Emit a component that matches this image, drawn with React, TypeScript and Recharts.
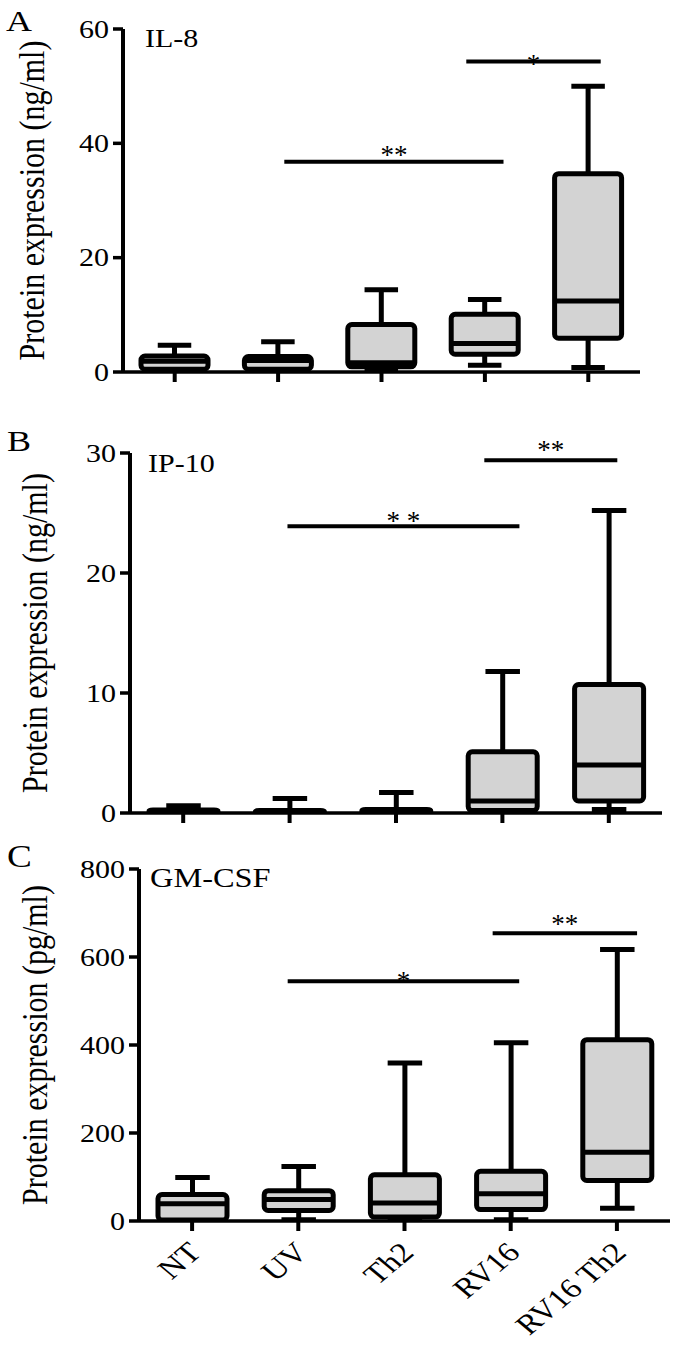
import { ComposedChart, Bar, XAxis, YAxis, ReferenceLine, ReferenceDot } from 'recharts';

const groups = ['NT', 'UV', 'Th2', 'RV16', 'RV16 Th2'];

// IL-8 (ng/ml): whisker low, Q1, median, Q3, whisker high
const il8Min = [0.2, 0.2, 0.3, 1.2, 0.8];
const il8Q1 = [0.5, 0.5, 0.9, 3.1, 5.9];
const il8Med = [1.9, 2.0, 1.6, 5.0, 12.4];
const il8Q3 = [2.8, 2.7, 8.3, 10.1, 34.7];
const il8Max = [4.7, 5.3, 14.4, 12.7, 50];

// IP-10 (ng/ml)
const ip10Min = [0, 0, 0, 0.05, 0.3];
const ip10Q1 = [0.05, 0.02, 0.03, 0.2, 1.0];
const ip10Med = [0.15, 0.1, 0.15, 1.0, 4.0];
const ip10Q3 = [0.25, 0.2, 0.3, 5.1, 10.7];
const ip10Max = [0.6, 1.2, 1.7, 11.8, 25.2];

// GM-CSF (pg/ml)
const gmMin = [0, 3, 2, 3, 29];
const gmQ1 = [2, 24, 9, 26, 92];
const gmMed = [39, 49, 41, 62, 156];
const gmQ3 = [60, 69, 105, 113, 412];
const gmMax = [99, 124, 359, 405, 617];

// significance bars: span in group-index units, height in axis units
const sigA = [
  { from: 1.06, to: 3.18, y: 36.8, label: '**' },
  { from: 2.82, to: 4.12, y: 54.3, label: '*' },
];
const sigB = [
  { from: 0.98, to: 3.16, y: 23.9, label: '* *' },
  { from: 2.83, to: 4.08, y: 29.4, label: '**' },
];
const sigC = [
  { from: 0.9, to: 3.08, y: 545, label: '*' },
  { from: 2.83, to: 4.19, y: 654, label: '**' },
];
// label baseline offsets (px) below each bar
const sigDyA = [2, 11];
const sigDyB = [4, -1];
const sigDyC = [9, 0];

const ticksA = [0, 20, 40, 60];
const ticksB = [0, 10, 20, 30];
const ticksC = [0, 200, 400, 600, 800];
const groupTicks = [0, 1, 2, 3, 4];

const FONT = '"Liberation Serif", "Times New Roman", serif';
const SX = 1.2;

type Row = { idx: number; name: string; min: number; q1: number; med: number; q3: number; max: number };

const rows = (mn: number[], a: number[], m: number[], b: number[], mx: number[]): Row[] =>
  groups.map((name, i) => ({ idx: i, name, min: mn[i], q1: a[i], med: m[i], q3: b[i], max: mx[i] }));

const dataA = rows(il8Min, il8Q1, il8Med, il8Q3, il8Max);
const dataB = rows(ip10Min, ip10Q1, ip10Med, ip10Q3, ip10Max);
const dataC = rows(gmMin, gmQ1, gmMed, gmQ3, gmMax);

function BoxShape(props: any) {
  const { x, y, width, height, payload } = props;
  const { min, q1, med, q3, max } = payload as Row;
  const top = Math.min(y, y + height);
  const bottom = Math.max(y, y + height);
  const toY = (v: number) => (max === min ? bottom : bottom - ((v - min) / (max - min)) * (bottom - top));
  const cx = x + width / 2;
  const cap = width * 0.5;
  const y1 = toY(q1);
  const y3 = toY(q3);
  const ym = toY(med);
  return (
    <g>
      <line x1={cx} x2={cx} y1={top} y2={bottom} stroke="#000" strokeWidth={5} />
      <line x1={cx - cap / 2} x2={cx + cap / 2} y1={top} y2={top} stroke="#000" strokeWidth={5} />
      <line x1={cx - cap / 2} x2={cx + cap / 2} y1={bottom} y2={bottom} stroke="#000" strokeWidth={5} />
      <rect x={x} y={y3} width={width} height={Math.max(y1 - y3, 0.5)} rx={4} fill="#d3d3d3" stroke="#000" strokeWidth={5} />
      <line x1={x} x2={x + width} y1={ym} y2={ym} stroke="#000" strokeWidth={5} />
    </g>
  );
}

function YTick({ x, y, payload }: any) {
  return (
    <text transform={`translate(${x},${y}) scale(${SX},1)`} textAnchor="end" dy="0.35em" fontFamily={FONT} fontSize={25} fill="#000">
      {payload.value}
    </text>
  );
}

function XTick({ x, y, payload }: any) {
  return (
    <text transform={`translate(${x + 11},${y + 23}) scale(${SX},1) rotate(-45)`} textAnchor="end" fontFamily={FONT} fontSize={28} fill="#000">
      {groups[payload.value]}
    </text>
  );
}

const NoTick = () => <g />;

function YLabel({ viewBox, text, bx }: any) {
  const cy = viewBox.y + viewBox.height / 2;
  return (
    <text transform={`translate(${bx},${cy}) scale(${SX},1) rotate(-90)`} textAnchor="middle" fontFamily={FONT} fontSize={30} fill="#000">
      {text}
    </text>
  );
}

interface PanelProps {
  data: Row[];
  top: number;
  height: number;
  margin: { top: number; right: number; left: number; bottom: number };
  yWidth: number;
  xHeight: number;
  boxWidth: number;
  domain: [number, number];
  ticks: number[];
  unit: string;
  sig: { from: number; to: number; y: number; label: string }[];
  sigDy: number[];
  showLabels: boolean;
  labelX: number;
}

function Panel(p: PanelProps) {
  return (
    <div style={{ position: 'absolute', left: 0, top: p.top }}>
      <ComposedChart width={677} height={p.height} data={p.data} margin={p.margin}>
        <XAxis
          dataKey="idx"
          type="number"
          domain={[-0.5, 4.5]}
          ticks={groupTicks}
          allowDataOverflow
          height={p.xHeight}
          axisLine={{ stroke: '#000', strokeWidth: 3.5 }}
          tickLine={{ stroke: '#000', strokeWidth: 4 }}
          tickSize={10}
          tickMargin={0}
          interval={0}
          tick={p.showLabels ? <XTick /> : <NoTick />}
        />
        <YAxis
          width={p.yWidth}
          domain={p.domain}
          ticks={p.ticks}
          interval={0}
          allowDataOverflow
          axisLine={{ stroke: '#000', strokeWidth: 4 }}
          tickLine={{ stroke: '#000', strokeWidth: 3.5 }}
          tickSize={10}
          tickMargin={4}
          tick={<YTick />}
          label={{ content: (lp: any) => <YLabel {...lp} text={`Protein expression (${p.unit})`} bx={p.labelX} /> }}
        />
        <Bar dataKey={(d: Row) => [d.min, d.max]} barSize={p.boxWidth} shape={<BoxShape />} isAnimationActive={false} />
        {p.sig.map((s, i) => (
          <ReferenceLine
            key={`l${i}`}
            segment={[
              { x: s.from, y: s.y },
              { x: s.to, y: s.y },
            ]}
            stroke="#000"
            strokeWidth={4}
          />
        ))}
        {p.sig.map((s, i) => (
          <ReferenceDot
            key={`d${i}`}
            x={(s.from + s.to) / 2}
            y={s.y}
            r={1}
            shape={(dp: any) => (
              <text x={dp.cx} y={dp.cy + p.sigDy[i]} textAnchor="middle" fontFamily={FONT} fontSize={27} fill="#000">
                {s.label}
              </text>
            )}
          />
        ))}
      </ComposedChart>
    </div>
  );
}

const headText = (x: number, y: number, size: number, s: string) => (
  <text transform={`translate(${x},${y}) scale(${SX},1)`} fontFamily={FONT} fontSize={size} fill="#000">
    {s}
  </text>
);

export default function App() {
  return (
    <div style={{ position: 'absolute', left: 0, top: 0, width: 677, height: 1348, background: '#fff' }}>
      <Panel
        data={dataA}
        top={0}
        height={400}
        margin={{ top: 29, right: 37, left: 0, bottom: 0 }}
        yWidth={123}
        xHeight={28}
        boxWidth={67}
        domain={[0, 60]}
        ticks={ticksA}
        unit="ng/ml"
        sig={sigA}
        sigDy={sigDyA}
        showLabels={false}
        labelX={44}
      />
      <Panel
        data={dataB}
        top={400}
        height={445}
        margin={{ top: 53, right: 15, left: 0, bottom: 4 }}
        yWidth={130}
        xHeight={28}
        boxWidth={69}
        domain={[0, 30]}
        ticks={ticksB}
        unit="ng/ml"
        sig={sigB}
        sigDy={sigDyB}
        showLabels={false}
        labelX={47}
      />
      <Panel
        data={dataC}
        top={845}
        height={503}
        margin={{ top: 24, right: 7, left: 0, bottom: 0 }}
        yWidth={139}
        xHeight={127}
        boxWidth={69}
        domain={[0, 800]}
        ticks={ticksC}
        unit="pg/ml"
        sig={sigC}
        sigDy={sigDyC}
        showLabels={true}
        labelX={47}
      />
      <svg width={677} height={1348} style={{ position: 'absolute', left: 0, top: 0, pointerEvents: 'none' }}>
        {headText(6, 31, 30, 'A')}
        {headText(145, 47, 25, 'IL-8')}
        {headText(7, 451, 30, 'B')}
        {headText(148, 472, 25, 'IP-10')}
        {headText(7, 867, 31, 'C')}
        {headText(150, 887, 27, 'GM-CSF')}
      </svg>
    </div>
  );
}
